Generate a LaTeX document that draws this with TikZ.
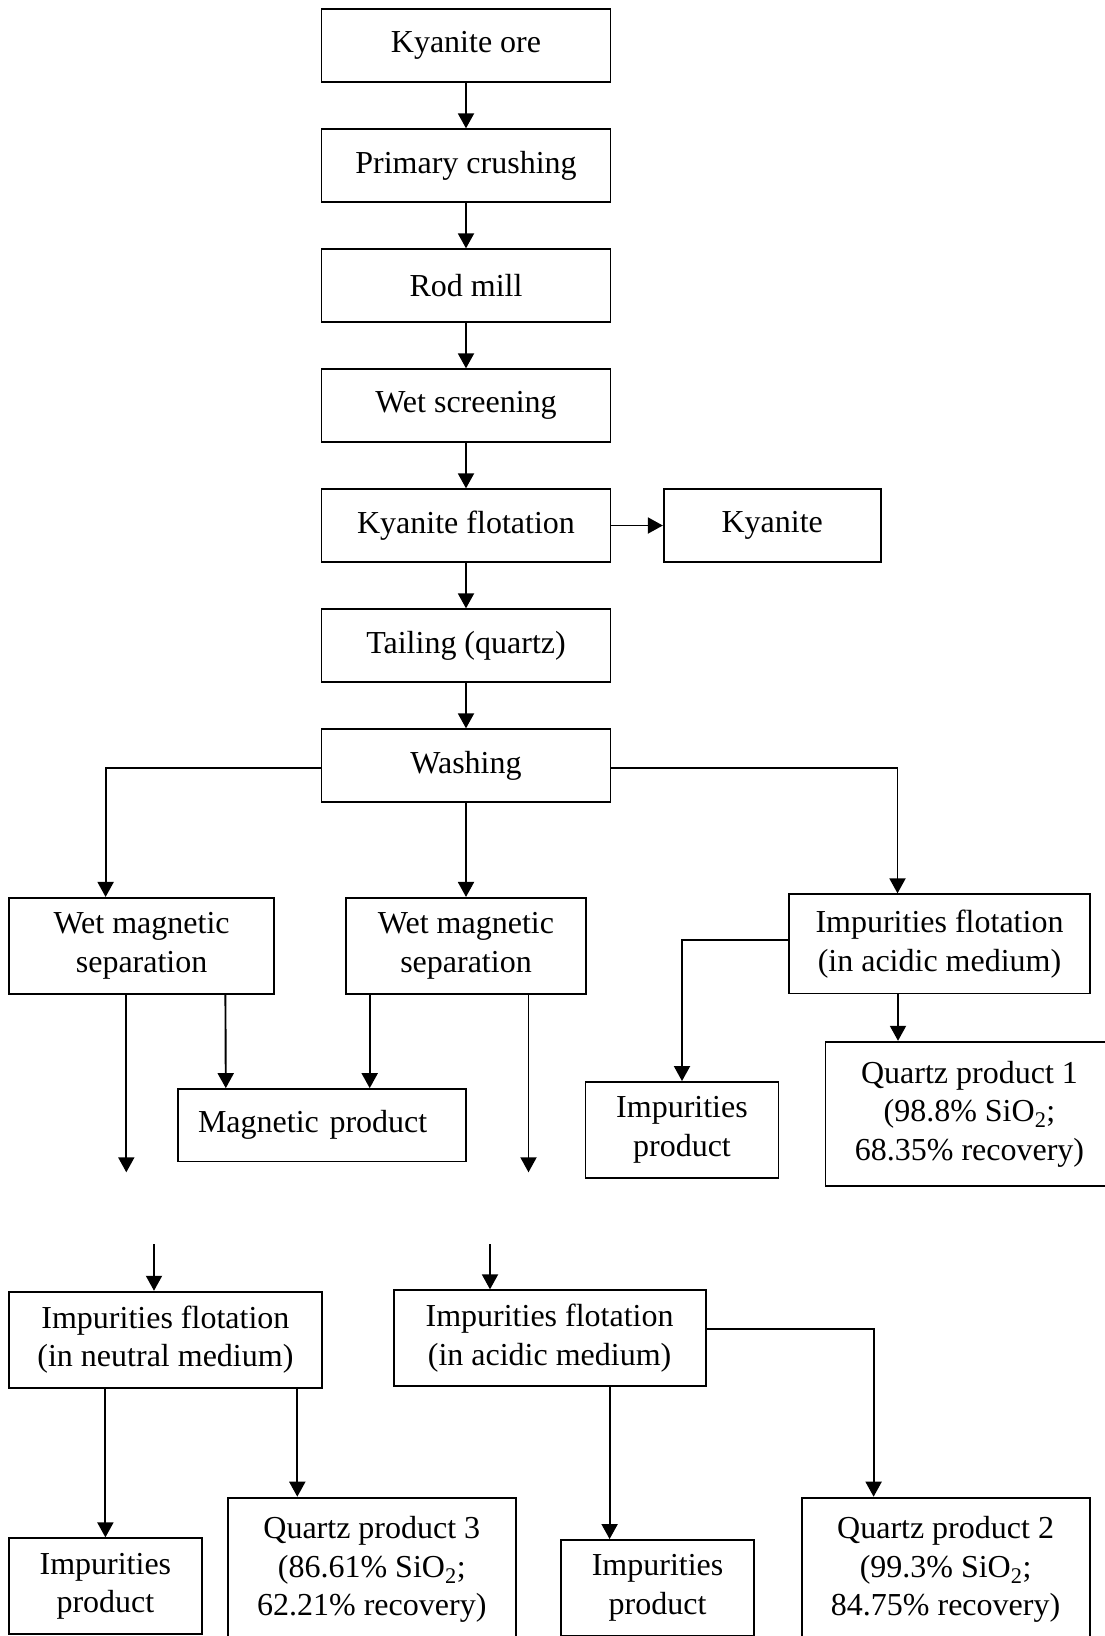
\documentclass[tikz,border=0pt]{standalone}
\usepackage{fontspec}
\setmainfont{Liberation Serif}
\usepackage{tikz}
\usetikzlibrary{arrows.meta}
\tikzstyle{process} = [rectangle, minimum width=289pt, minimum height=72.4pt, inner sep=0pt, text centered, align=center, draw=black, line width=1.9pt]
\tikzstyle{twoline} = [process, minimum height=96pt]
\tikzstyle{waste} = [process, minimum width=193pt, minimum height=96pt]
\tikzstyle{result} = [process, minimum width=288pt, minimum height=144.3pt]
\tikzstyle{arrow} = [line width=1.9pt,-{Triangle[length=15pt,width=16pt]}]

\begin{document}
\begin{tikzpicture}[x=1pt, y=1pt, node distance=120pt, font=\fontsize{32}{38.5}\selectfont]
    \useasboundingbox (0,0) rectangle (1104,-1636);

    \node (ore) [process] at (466,-45.5) {Kyanite ore};
    \node (crush) [process, below of=ore] {Primary crushing};
    \node (rod) [process, below of=crush] {Rod mill};
    \node (screen) [process, below of=rod] {Wet screening};
    \node (kflot) [process, below of=screen] {Kyanite flotation};
    \node (kyan) [process, right of=kflot, xshift=186.2pt, minimum width=216.8pt] {Kyanite};
    \node (tail) [process, below of=kflot] {Tailing (quartz)};
    \node (wash) [process, below of=tail] {Washing};

    \node (wms2) [twoline, below of=wash, yshift=-60.4pt, minimum width=240.7pt] {Wet magnetic\\separation};
    \node (wms1) [twoline, left of=wms2, xshift=-204.4pt, minimum width=264.8pt] {Wet magnetic\\separation};
    \node (iflotR) [twoline, right of=wms2, xshift=353.5pt, yshift=2pt, minimum width=301pt, minimum height=99.2pt] {Impurities flotation\\(in acidic medium)};
    \node (magp) [process, below of=wms2, xshift=-144pt, yshift=-59.4pt, minimum width=288pt, text width=248pt, align=left] {Magnetic product};
    \node (impR) [waste, below of=iflotR, xshift=-257.5pt, yshift=-66.1pt] {Impurities\\product};
    \node (qp1) [result, below of=iflotR, xshift=30pt, yshift=-50pt] {Quartz product 1\\(98.8\% SiO\textsubscript{2};\\68.35\% recovery)};

    \node (iflotN) [twoline, below of=wms1, xshift=23.8pt, yshift=-273.8pt, minimum width=313pt] {Impurities flotation\\(in neutral medium)};
    \node (iflotM) [twoline, right of=iflotN, xshift=264.2pt, yshift=1.4pt, minimum width=312pt] {Impurities flotation\\(in acidic medium)};
    \node (impL) [waste, below of=iflotN, xshift=-60pt, yshift=-126.6pt] {Impurities\\product};
    \node (qp3) [result, below of=iflotN, xshift=206.4pt, yshift=-110.1pt] {Quartz product 3\\(86.61\% SiO\textsubscript{2};\\62.21\% recovery)};
    \node (impM) [waste, below of=iflotM, xshift=108pt, yshift=-129.7pt] {Impurities\\product};
    \node (qp2) [result, below of=iflotM, xshift=396pt, yshift=-111.5pt] {Quartz product 2\\(99.3\% SiO\textsubscript{2};\\84.75\% recovery)};

    \coordinate (outL) at (126.3,-1172.3);
    \coordinate (outM) at (528.5,-1172.3);
    \coordinate (inN) at (154,-1244);
    \coordinate (inM) at (490,-1244);

    \draw [arrow] (ore) -- (crush);
    \draw [arrow] (crush) -- (rod);
    \draw [arrow] (rod) -- (screen);
    \draw [arrow] (screen) -- (kflot);
    \draw [arrow] (kflot) -- (kyan);
    \draw [arrow] (kflot) -- (tail);
    \draw [arrow] (tail) -- (wash);
    \draw [arrow] ([yshift=-2.5pt]wash.west) -| ([xshift=-36pt]wms1.north);
    \draw [arrow] (wash) -- (wms2);
    \draw [arrow] ([yshift=-2.5pt]wash.east) -| ([xshift=-42pt]iflotR.north);
    \draw [arrow] (outL |- wms1.south) -- (outL);
    \draw [arrow] ([xshift=83.8pt]wms1.south) -- ([xshift=-96.2pt]magp.north);
    \draw [arrow] ([xshift=-96.3pt]wms2.south) -- ([xshift=47.7pt]magp.north);
    \draw [arrow] (outM |- wms2.south) -- (outM);
    \draw [arrow] ([yshift=3.9pt]iflotR.west) -| (impR.north);
    \draw [arrow] ([xshift=-41.5pt]iflotR.south) -- ([xshift=-71.5pt]qp1.north);
    \draw [arrow] (inN) -- (inN |- iflotN.north);
    \draw [arrow] (inM) -- (inM |- iflotM.north);
    \draw [arrow] (impL.north |- iflotN.south) -- (impL.north);
    \draw [arrow] ([xshift=131.9pt]iflotN.south) -- ([xshift=-74.5pt]qp3.north);
    \draw [arrow] ([xshift=60pt]iflotM.south) -- ([xshift=-48pt]impM.north);
    \draw [arrow] ([yshift=9pt]iflotM.east) -| ([xshift=-72pt]qp2.north);
\end{tikzpicture}
\end{document}
